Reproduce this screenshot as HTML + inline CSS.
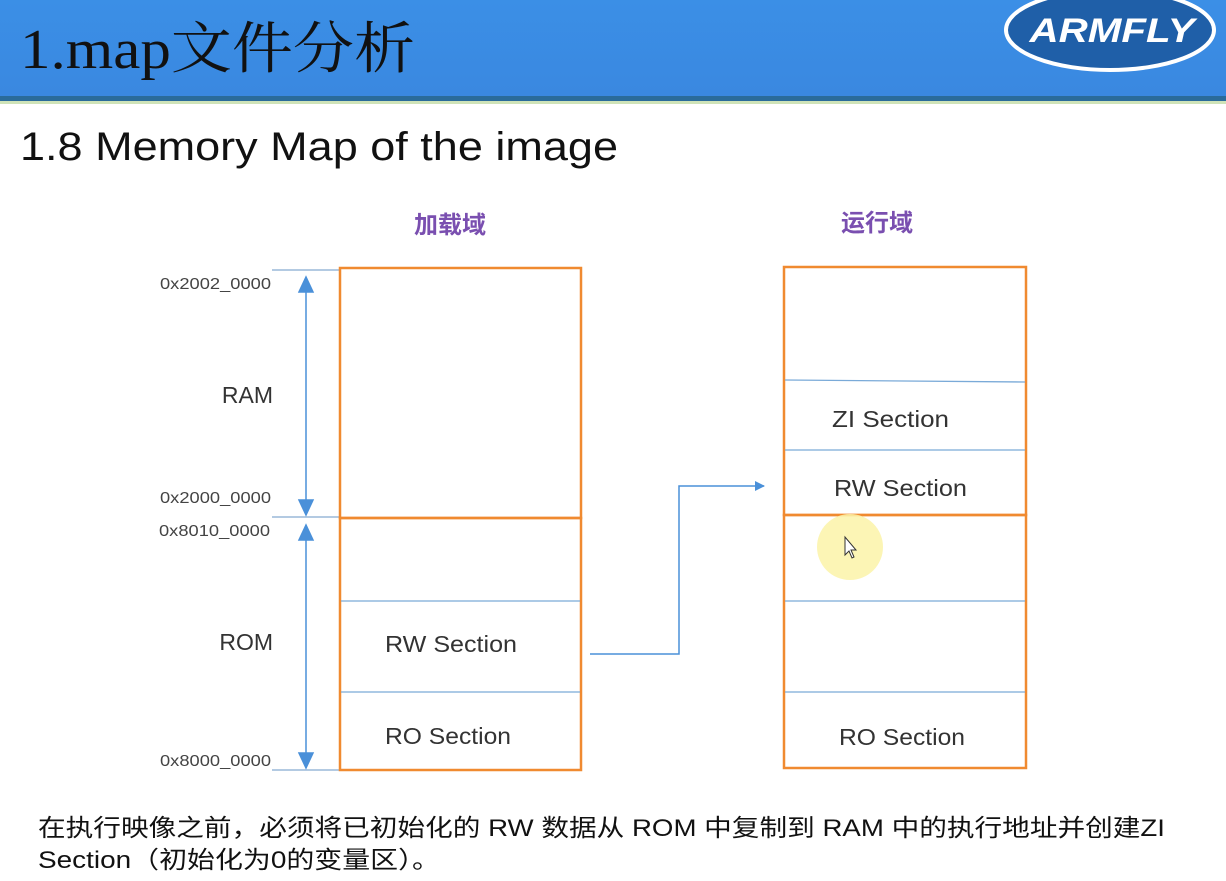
<!DOCTYPE html>
<html><head><meta charset="utf-8"><style>
body{margin:0;width:1226px;height:881px;overflow:hidden;background:#fff;font-family:"Liberation Sans","Noto Sans CJK SC",sans-serif}
</style></head><body>
<svg width="1226" height="881" xmlns="http://www.w3.org/2000/svg" style="position:absolute;left:0;top:0">
<defs>
<linearGradient id="hg" x1="0" y1="0" x2="0" y2="1"><stop offset="0" stop-color="#3b8fe6"/><stop offset="1" stop-color="#3a88e0"/></linearGradient>
<marker id="ah" markerWidth="10" markerHeight="10" refX="9" refY="5" orient="auto" markerUnits="userSpaceOnUse"><path d="M0,0 L10,5 L0,10Z" fill="#4a90d9"/></marker>
</defs>
<rect x="0" y="0" width="1226" height="96" fill="url(#hg)"/>
<rect x="0" y="96" width="1226" height="5" fill="#2a6b9a"/>
<rect x="0" y="101" width="1226" height="3" fill="#cfe3b8"/>
<text x="20" y="68" font-family="Liberation Serif,Noto Serif CJK SC,serif" font-size="56" fill="#111" textLength="395" lengthAdjust="spacingAndGlyphs">1.map文件分析</text>
<ellipse cx="1110" cy="30" rx="104" ry="40" fill="#1f5fa8" stroke="#fff" stroke-width="4"/>
<text x="1112" y="42" text-anchor="middle" font-size="34" font-weight="bold" font-style="italic" fill="#fff" textLength="165" lengthAdjust="spacingAndGlyphs">ARMFLY</text>
<text x="20" y="160" font-size="40" fill="#111" textLength="598" lengthAdjust="spacingAndGlyphs">1.8 Memory Map of the image</text>
<text x="450" y="233" text-anchor="middle" font-size="24" font-weight="bold" fill="#7a4fb0">加载域</text>
<text x="877" y="231" text-anchor="middle" font-size="24" font-weight="bold" fill="#7a4fb0">运行域</text>
<g font-size="16" fill="#444">
<text x="160" y="289" textLength="111" lengthAdjust="spacingAndGlyphs">0x2002_0000</text>
<text x="160" y="503" textLength="111" lengthAdjust="spacingAndGlyphs">0x2000_0000</text>
<text x="159" y="536" textLength="111" lengthAdjust="spacingAndGlyphs">0x8010_0000</text>
<text x="160" y="766" textLength="111" lengthAdjust="spacingAndGlyphs">0x8000_0000</text>
</g>
<g font-size="23" fill="#333" text-anchor="end">
<text x="273" y="403">RAM</text>
<text x="273" y="650">ROM</text>
</g>
<g stroke="#9ab8d8" stroke-width="1.5">
<line x1="272" y1="270" x2="340" y2="270"/><line x1="272" y1="517" x2="340" y2="517"/><line x1="272" y1="770" x2="340" y2="770"/>
</g>
<g stroke="#4a90d9" stroke-width="1.5" fill="#4a90d9">
<line x1="306" y1="285" x2="306" y2="505"/><path d="M299,292 L306,277 L313,292Z"/><path d="M299,500 L306,515 L313,500Z"/>
<line x1="306" y1="535" x2="306" y2="760"/><path d="M299,540 L306,525 L313,540Z"/><path d="M299,753 L306,768 L313,753Z"/>
</g>
<g fill="none" stroke="#f08a30" stroke-width="2.5">
<rect x="340" y="268" width="241" height="250"/>
<rect x="340" y="518" width="241" height="252"/>
<rect x="784" y="267" width="242" height="248"/>
<rect x="784" y="515" width="242" height="253"/>
</g>
<g stroke="#7aaad8" stroke-width="1.3">
<line x1="341" y1="601" x2="580" y2="601"/><line x1="341" y1="692" x2="580" y2="692"/>
<line x1="785" y1="380" x2="1025" y2="382"/><line x1="785" y1="450" x2="1025" y2="450"/>
<line x1="785" y1="601" x2="1025" y2="601"/><line x1="785" y1="692" x2="1025" y2="692"/>
</g>
<g font-size="23" fill="#333">
<text x="385" y="652" textLength="132" lengthAdjust="spacingAndGlyphs">RW Section</text>
<text x="385" y="744" textLength="126" lengthAdjust="spacingAndGlyphs">RO Section</text>
<text x="832" y="427" textLength="117" lengthAdjust="spacingAndGlyphs">ZI Section</text>
<text x="834" y="496" textLength="133" lengthAdjust="spacingAndGlyphs">RW Section</text>
<text x="839" y="745" textLength="126" lengthAdjust="spacingAndGlyphs">RO Section</text>
</g>
<polyline points="590,654 679,654 679,486 764,486" fill="none" stroke="#4a90d9" stroke-width="1.5" marker-end="url(#ah)"/>
<circle cx="850" cy="547" r="33" fill="#fbf3a8" opacity="0.85"/>
<path d="M845,537 L845,555 L849,551 L852,558 L854,557 L851,550 L856,550Z" fill="#fff" stroke="#333" stroke-width="1"/>
<text x="38" y="836" font-size="24" fill="#111" textLength="1127" lengthAdjust="spacingAndGlyphs">在执行映像之前，必须将已初始化的 RW 数据从 ROM 中复制到 RAM 中的执行地址并创建ZI</text>
<text x="38" y="868" font-size="24" fill="#111" textLength="402" lengthAdjust="spacingAndGlyphs">Section（初始化为0的变量区）。</text>
</svg>
</body></html>
